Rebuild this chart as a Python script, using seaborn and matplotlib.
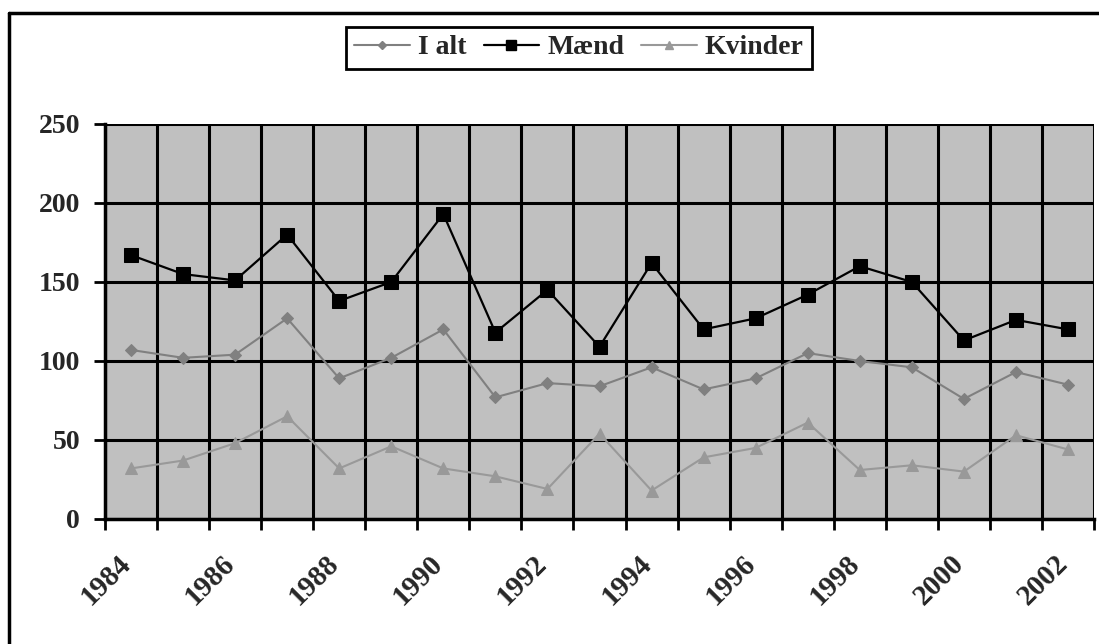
import numpy as np
import pandas as pd
import matplotlib
matplotlib.use("Agg")
import matplotlib.pyplot as plt
import matplotlib.transforms as mtransforms
from matplotlib.lines import Line2D
import seaborn as sns

# Data
years = np.arange(1984, 2003)
i_alt = [107, 102, 104, 127, 89, 102, 120, 77, 86, 84, 96, 82,
         89, 105, 100, 96, 76, 93, 85]
maend = [167, 155, 151, 180, 138, 150, 193, 118, 145, 109, 162, 120,
         127, 142, 160, 150, 113, 126, 120]
kvinder = [32, 37, 48, 65, 32, 46, 32, 27, 19, 54, 18, 39,
           45, 61, 31, 34, 30, 53, 44]
tick_years = np.arange(1984, 2004)
label_years = np.arange(1984, 2003, 2)

df = pd.DataFrame({"year": years, "I alt": i_alt, "Mænd": maend, "Kvinder": kvinder})
df["xpos"] = df["year"] + 0.5  # Excel-style: points sit between tick marks

sns.set_style("white")
plt.rcParams["font.family"] = ["Liberation Serif", "DejaVu Serif"]

fig = plt.figure(figsize=(10.99, 6.44), dpi=100)
ax = fig.add_axes([0.0955, 0.1941, 0.9, 0.6134])
ax.set_facecolor("#C0C0C0")

series = [
    ("I alt", "#808080", "D", 6, 1.5),
    ("Mænd", "#000000", "s", 10, 1.6),
    ("Kvinder", "#999999", "^", 8, 1.5),
]
for name, color, marker, ms, lw in series:
    sns.lineplot(data=df, x="xpos", y=name, ax=ax, color=color, marker=marker,
                 markersize=ms, markeredgecolor=color, linewidth=lw, label=name)

ax.set_xlim(tick_years[0], tick_years[-1])
ax.set_ylim(0, 250)
ax.set_yticks([0, 50, 100, 150, 200, 250])
ax.set_xticks(tick_years)
ax.set_xticklabels([str(y) if y in label_years else "" for y in tick_years])
ax.grid(True, color="black", linewidth=2.2)
ax.set_axisbelow(True)
ax.set_xlabel("")
ax.set_ylabel("")

for side in ["top", "right"]:
    ax.spines[side].set_visible(False)
for side in ["left", "bottom"]:
    ax.spines[side].set_color("black")
    ax.spines[side].set_linewidth(2.5)

ax.tick_params(axis="both", which="major", direction="out", length=8, width=2,
               color="black", bottom=True, left=True)
ax.tick_params(axis="y", labelsize=20, pad=10)
ax.tick_params(axis="x", labelsize=21, pad=14)
for lab in ax.get_yticklabels():
    lab.set_fontweight("bold")
offset = mtransforms.ScaledTranslation(0.12, 0, fig.dpi_scale_trans)
for lab in ax.get_xticklabels():
    lab.set_fontweight("bold")
    lab.set_rotation(45)
    lab.set_ha("right")
    lab.set_rotation_mode("anchor")
    lab.set_transform(lab.get_transform() + offset)

ax.get_legend().remove()
handles = [Line2D([], [], color=c, marker=m, markersize=ms * 0.7, linewidth=lw,
                  markeredgecolor=c) for _, c, m, ms, lw in series]
leg = fig.legend(handles, [s[0] for s in series], loc="center",
                 bbox_to_anchor=(0.527, 0.926), ncol=3, frameon=True,
                 fancybox=False, framealpha=1, edgecolor="black",
                 prop={"weight": "bold", "size": 20}, handlelength=2.0,
                 handletextpad=0.3, columnspacing=0.6, borderpad=0.3)
leg.get_frame().set_linewidth(2)

# Outer chart frame (cropped on right and bottom in the reference)
fig.add_artist(Line2D([0.0082, 0.0082], [0.0, 0.98], transform=fig.transFigure,
                      color="black", linewidth=2.5))
fig.add_artist(Line2D([0.0082, 1.0], [0.98, 0.98], transform=fig.transFigure,
                      color="black", linewidth=2.5))

fig.savefig("out.png", dpi=100)
